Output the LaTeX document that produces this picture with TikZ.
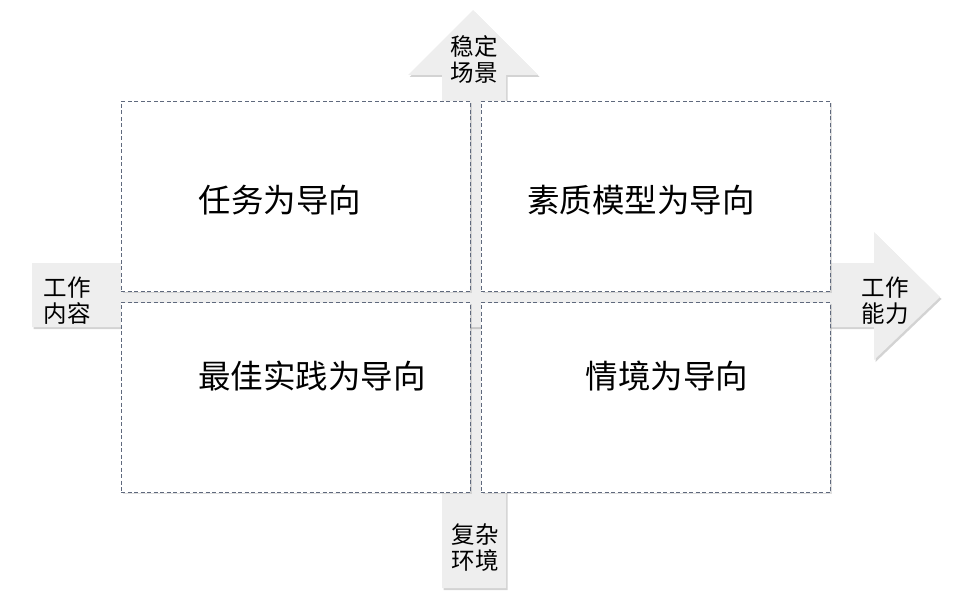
\documentclass[tikz,border=0pt]{standalone}
\usepackage{fontspec}
\setmainfont{Noto Sans CJK SC}
\usetikzlibrary{shadows}
\definecolor{arrowgray}{RGB}{238, 238, 238}
\definecolor{boxline}{RGB}{95, 105, 125}

\begin{document}
\begin{tikzpicture}[
	x=1pt, y=1pt,
	% Styles for the quadrant boxes and the axis arrows
	axisarrow/.style={fill=arrowgray, draw=none, drop shadow={opacity=0.35, shadow xshift=1.5pt, shadow yshift=-2pt}},
	quadbox/.style={draw=boxline, fill=white, dash pattern=on 4pt off 2.5pt, line width=0.7pt,
		minimum width=349pt, minimum height=190pt, inner sep=0pt,
		drop shadow={opacity=0.25, shadow xshift=1.5pt, shadow yshift=-1.5pt}},
	quadtext/.style={font=\fontsize{32.5}{36}\selectfont, text=black},
	axislabel/.style={font=\fontsize{23.5}{26}\selectfont, align=center, text=black, inner sep=0pt}
	]
	\useasboundingbox (0,0) rectangle (960,598);
	
	% ==========================================
	% 1. AXIS ARROWS
	% ==========================================
	% Vertical arrow (bottom to top)
	\path[axisarrow] (442,10) -- (442,523) -- (408,523) -- (473,588) -- (538,523) -- (506,523) -- (506,10) -- cycle;
	
	% Horizontal arrow (left to right)
	\path[axisarrow] (32,335) -- (874,335) -- (874,366) -- (940,301) -- (874,238) -- (874,271) -- (32,271) -- cycle;
	
	% ==========================================
	% 2. QUADRANT BOXES
	% ==========================================
	\node[quadbox] (tl) at (295.5,401.5) {};
	\node[quadbox] (tr) at (655.5,401.5) {};
	\node[quadbox] (bl) at (295.5,200.5) {};
	\node[quadbox] (br) at (655.5,200.5) {};
	
	\node[quadtext] (tltext) at (280,398) {任务为导向};
	\node[quadtext] (trtext) at (641,398) {素质模型为导向};
	\node[quadtext] (bltext) at (312,222) {最佳实践为导向};
	\node[quadtext] (brtext) at (667,222) {情境为导向};
	
	% ==========================================
	% 3. AXIS LABELS
	% ==========================================
	\node[axislabel] (top) at (474,539) {稳定\\场景};
	\node[axislabel] (bottom) at (475,50) {复杂\\环境};
	\node[axislabel] (left) at (67,297) {工作\\内容};
	\node[axislabel] (right) at (885,297) {工作\\能力};
	
\end{tikzpicture}
\end{document}
